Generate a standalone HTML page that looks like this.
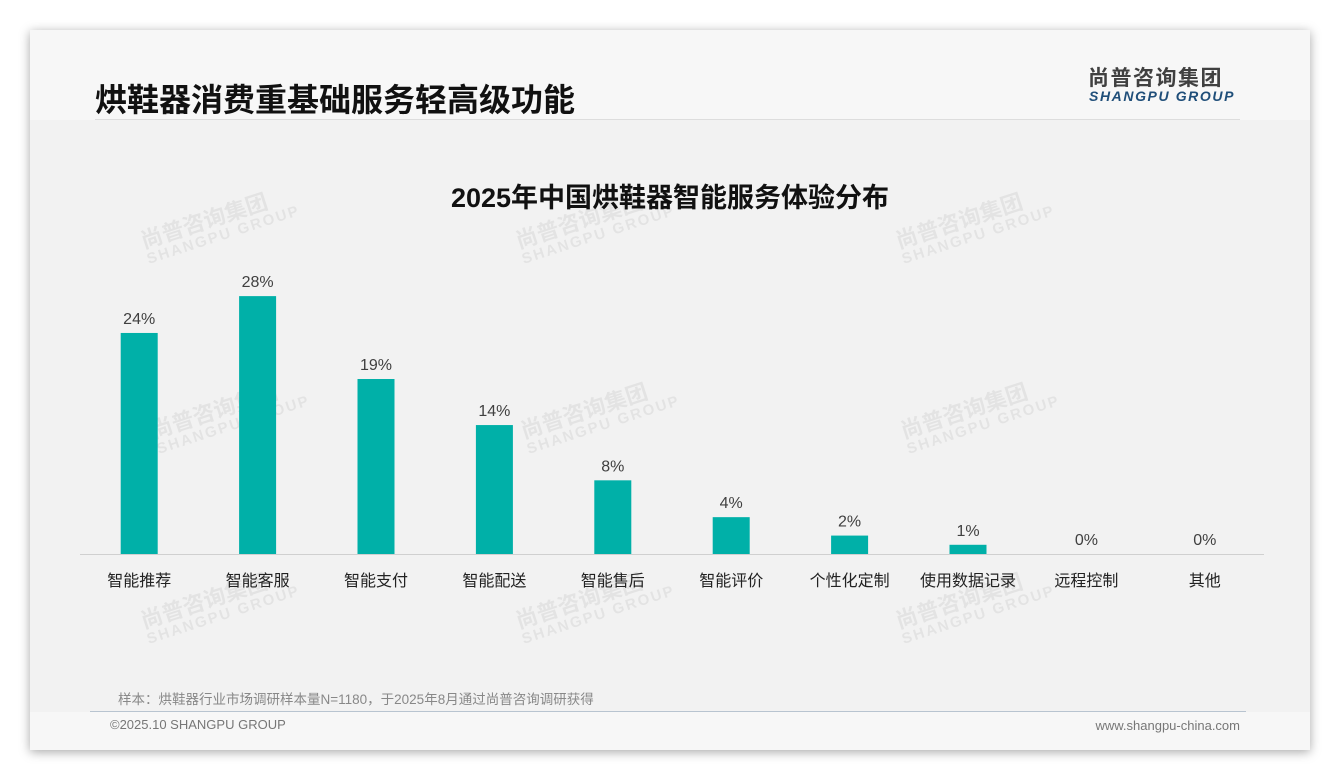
<!DOCTYPE html>
<html><head><meta charset="utf-8"><style>
body{margin:0;width:1340px;height:780px;background:#fff;position:relative;overflow:hidden;font-family:"Liberation Sans","Noto Sans CJK SC",sans-serif}
#card{position:absolute;left:30px;top:30px;width:1280px;height:720px;background:#f7f7f7;box-shadow:0 2px 10px rgba(0,0,0,.35)}
#plot{position:absolute;left:0;top:90px;width:1280px;height:592px;background:#f2f2f2}
.abs{position:absolute}
.wm{position:absolute;color:rgba(0,0,0,.06);font-weight:bold;transform:rotate(-18deg);line-height:1.05;white-space:nowrap}
</style></head><body>
<div id="card">
<div id="plot"></div>
<div class="abs" style="left:65px;top:45px;font-size:32px;font-weight:bold;color:#111">烘鞋器消费重基础服务轻高级功能</div>
<div class="abs" style="left:65px;top:89px;width:1145px;height:1px;background:#ddd"></div>
<div class="abs" style="left:1058px;top:32px;font-size:21px;font-weight:bold;color:#404040;letter-spacing:1.5px">尚普咨询集团</div>
<div class="abs" style="left:1059px;top:58px;font-size:14px;font-weight:bold;font-style:italic;color:#1f4e79;letter-spacing:1.6px">SHANGPU GROUP</div>
<div class="abs" style="left:0;width:1280px;top:146px;text-align:center;font-size:27px;font-weight:bold;color:#111">2025年中国烘鞋器智能服务体验分布</div>
<div class="abs" style="left:88px;top:658px;font-size:13.5px;color:#888">样本：烘鞋器行业市场调研样本量N=1180，于2025年8月通过尚普咨询调研获得</div>
<div class="abs" style="left:60px;top:681px;width:1156px;height:1px;background:#b8c4d0"></div>
<div class="abs" style="left:80px;top:687px;font-size:13px;color:#777">©2025.10 SHANGPU GROUP</div>
<div class="abs" style="right:70px;top:688px;font-size:13px;color:#777">www.shangpu-china.com</div>
</div>
<div id="wms"></div>
<svg id="chart" class="abs" style="left:0;top:0" width="1340" height="780"></svg>
<script>
const categories=["智能推荐","智能客服","智能支付","智能配送","智能售后","智能评价","个性化定制","使用数据记录","远程控制","其他"];
const values=[24,28,19,14,8,4,2,1,0,0];
const valueLabels=["24%","28%","19%","14%","8%","4%","2%","1%","0%","0%"];
const NS="http://www.w3.org/2000/svg";
const svg=document.getElementById('chart');
const x0=80,x1=1264,base=554,pxPer=9.21,bw=37;
const step=(x1-x0)/categories.length;
const xc=i=>x0+step*(i+0.5);
const y=v=>base-v*pxPer;
function mk(t,a){const e=document.createElementNS(NS,t);for(const k in a)e.setAttribute(k,a[k]);svg.appendChild(e);return e;}
categories.forEach((c,i)=>{
  const r=mk('rect',{x:xc(i)-bw/2,y:y(values[i]),width:bw,height:base-y(values[i]),fill:'#00b0a8'});
  
  
  const l=mk('text',{x:xc(i),y:y(values[i])-9,'text-anchor':'middle','font-size':16,fill:'#404040','font-family':'Liberation Sans, Noto Sans CJK SC, sans-serif'});
  l.textContent=valueLabels[i];
  
  
  const t=mk('text',{x:xc(i),y:586,'text-anchor':'middle','font-size':16,fill:'#222','font-family':'Liberation Sans, Noto Sans CJK SC, sans-serif'});
  t.textContent=c;
  
  
});
const ax=mk('line',{x1:x0,x2:x1,y1:base+0.5,y2:base+0.5,stroke:'#d0d0d0','stroke-width':1});


const wms=document.getElementById('wms');
[[140,205],[515,205],[895,205],[150,395],[520,395],[900,395],[140,585],[515,585],[895,585]].forEach(p=>{
  const d=document.createElement('div');d.className='wm';d.style.left=p[0]+'px';d.style.top=p[1]+'px';
  d.innerHTML='<div style="font-size:22px">尚普咨询集团</div><div style="font-size:15px;letter-spacing:2px">SHANGPU GROUP</div>';
  
  
  wms.appendChild(d);
});
</script>
</body></html>
